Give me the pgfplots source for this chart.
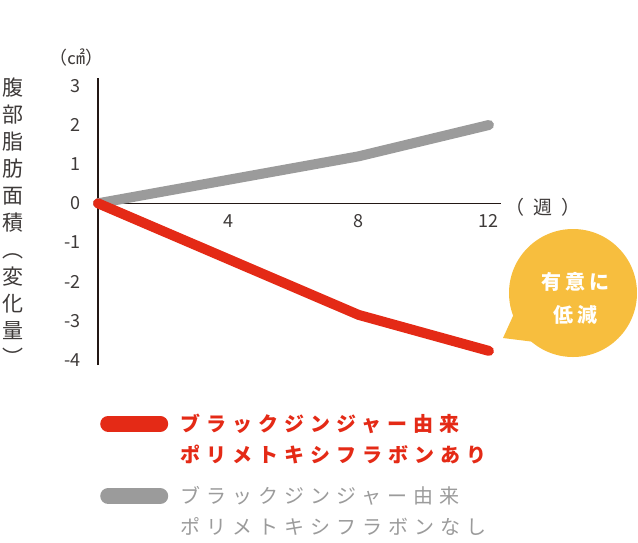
\documentclass[border=0pt]{standalone}
\usepackage{fontspec}
\setmainfont{Noto Sans CJK JP}
\newfontfamily\legfont[LetterSpace=30]{Noto Sans CJK JP}
\newfontfamily\spfont[LetterSpace=20]{Noto Sans CJK JP}
\newfontfamily\wkfont[LetterSpace=45]{Noto Sans CJK JP}
\usepackage{pgfplots}
\pgfplotsset{compat=1.18}

\definecolor{redc}{HTML}{E42A16}
\definecolor{grayc}{HTML}{9B9B9B}
\definecolor{bubc}{HTML}{F7BE3E}
\definecolor{tickc}{HTML}{3E3A39}
\definecolor{axisc}{HTML}{231815}

\begin{document}
\begin{tikzpicture}
\path[use as bounding box] (0,0) rectangle (638pt,-542pt);

\begin{axis}[
  at={(98pt,-365pt)}, anchor=south west,
  scale only axis, width=403pt, height=287pt,
  xmin=0, xmax=12.37, ymin=-4.13, ymax=3.2,
  axis lines=middle,
  axis line style={-},
  x axis line style={draw=axisc, line width=1.3pt},
  y axis line style={draw=axisc, line width=2pt},
  xtick={4,8,12}, xticklabels={4,8,12},
  ytick={-4,-3,-2,-1,0,1,2,3},
  yticklabels={-4,-3,-2,-1,0,1,2,3},
  major tick length=0pt,
  tick style={draw=none},
  hide obscured x ticks=false,
  hide obscured y ticks=false,
  ticklabel style={font=\fontsize{18}{18}\selectfont, text=tickc},
  yticklabel style={anchor=east, xshift=-14pt},
  xticklabel style={anchor=north, yshift=-8pt},
  clip=false,
  reverse legend,
  legend style={at={(axis description cs:0.005,-0.170)}, anchor=north west,
    draw=none, fill=none, inner sep=0pt, row sep=23pt,
    /tikz/every odd column/.append style={column sep=12pt}},
  legend cell align=left,
  legend image code/.code={\draw[#1, line width=16pt, line cap=round] (0pt,15pt) -- (52pt,15pt);},
]
\addplot[grayc, line width=10pt, line cap=round, line join=round]
  coordinates {(0,0) (8,1.2) (12,2.0)};
\addlegendentry[text=grayc, align=left, inner sep=0pt, font=\legfont\fontsize{20}{30.5}\selectfont]{ブラックジンジャー由来\\ポリメトキシフラボンなし}
\addplot[redc, line width=10pt, line cap=round, line join=round]
  coordinates {(0,0) (8,-2.85) (12,-3.77)};
\addlegendentry[text=redc, align=left, inner sep=0pt, font=\legfont\bfseries\fontsize{20}{30.5}\selectfont]{ブラックジンジャー由来\\ポリメトキシフラボンあり}
\end{axis}

% axis titles
\node[font=\fontsize{18}{18}\selectfont, text=tickc] at (76pt,-58pt) {（㎠）};
\node[font=\wkfont\fontsize{19}{19}\selectfont, text=tickc] at (543pt,-207pt) {（週）};
\foreach \c [count=\i from 0] in {腹,部,脂,肪,面,積,︵,変,化,量,︶}
  \node[font=\fontsize{21}{21}\selectfont, text=tickc, anchor=base, inner sep=0pt]
    at (12.5pt, {-(95+27*\i)*1pt}) {\c};

% callout
\fill[bubc] (573pt,-293pt) circle (64pt);
\fill[bubc] (503pt,-338pt) -- (518pt,-305pt) -- (535pt,-342pt) -- cycle;
\node[font=\spfont\bfseries\fontsize{20}{20}\selectfont, text=white] at (575pt,-282pt) {有意に};
\node[font=\spfont\bfseries\fontsize{20}{20}\selectfont, text=white] at (575pt,-315pt) {低減};
\end{tikzpicture}
\end{document}
